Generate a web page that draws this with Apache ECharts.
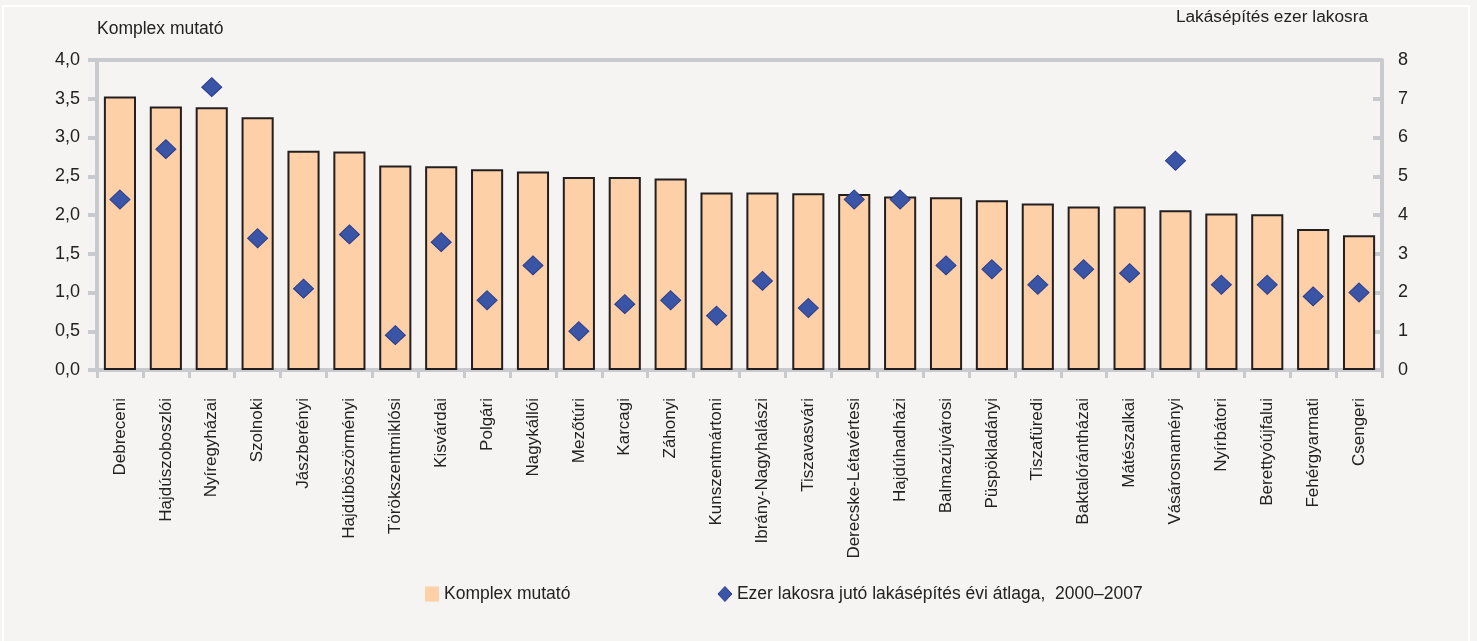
<!DOCTYPE html>
<html>
<head>
<meta charset="utf-8">
<script src="https://cdn.jsdelivr.net/npm/echarts@6/dist/echarts.min.js"></script>
<style>
html,body{margin:0;padding:0;background:#f5f4f2;}
#c{width:1477px;height:641px;}
</style>
</head>
<body>
<div id="c"></div>
<script>
const categories = ["Debreceni","Hajdúszoboszlói","Nyíregyházai","Szolnoki","Jászberényi","Hajdúböszörményi","Törökszentmiklósi","Kisvárdai","Polgári","Nagykállói","Mezőtúri","Karcagi","Záhonyi","Kunszentmártoni","Ibrány-Nagyhalászi","Tiszavasvári","Derecske-Létavértesi","Hajdúhadházi","Balmazújvárosi","Püspökladányi","Tiszafüredi","Baktalórántházai","Mátészalkai","Vásárosnaményi","Nyírbátori","Berettyóújfalui","Fehérgyarmati","Csengeri"];
const komplex = [3.53,3.40,3.39,3.26,2.83,2.82,2.64,2.63,2.59,2.56,2.49,2.49,2.47,2.29,2.29,2.28,2.27,2.24,2.23,2.19,2.15,2.11,2.11,2.06,2.02,2.01,1.82,1.74];
const lakas = [4.4,5.7,7.3,3.4,2.1,3.5,0.9,3.3,1.8,2.7,1.0,1.7,1.8,1.4,2.3,1.6,4.4,4.4,2.7,2.6,2.2,2.6,2.5,5.4,2.2,2.2,1.9,2.0];
const leftTicks = ["0,0","0,5","1,0","1,5","2,0","2,5","3,0","3,5","4,0"];

const chart = echarts.init(document.getElementById('c'));
const axisGrey = '#c9cacd';
const txt = '#222222';
const font = 'Liberation Sans, Arial, sans-serif';
chart.setOption({
  backgroundColor: '#f5f4f2',
  textStyle: {fontFamily: font},
  graphic: [{
    type: 'rect', shape: {x: 3, y: 6, width: 1466, height: 650},
    style: {fill: 'none', stroke: '#ffffff', lineWidth: 2}, silent: true
  }, {
    type: 'line', shape: {x1: 97, y1: 60, x2: 1382, y2: 60},
    style: {stroke: axisGrey, lineWidth: 4}, silent: true, z: 0
  }],
  grid: {left: 97, right: 95, top: 60, bottom: 271, containLabel: false},
  legend: {
    top: 580, left: 420, itemGap: 147,
    textStyle: {fontSize: 17.5, color: txt, fontFamily: font},
    itemWidth: 14, itemHeight: 15,
    data: [
      {name: 'Komplex mutató', icon: 'rect', itemStyle: {color: '#fdd0a7', borderWidth: 0}},
      {name: 'Ezer lakosra jutó lakásépítés évi átlaga,  2000–2007', icon: 'diamond', itemStyle: {color: '#3a55a6', borderColor: '#2a3a8a', borderWidth: 1}}
    ]
  },
  xAxis: {
    type: 'category', data: categories,
    axisLine: {lineStyle: {color: axisGrey, width: 4}},
    axisTick: {show: true, alignWithLabel: false, length: 8, lineStyle: {color: axisGrey, width: 3}},
    axisLabel: {rotate: 90, fontSize: 17, color: txt, margin: 28, fontFamily: font, interval: 0}
  },
  yAxis: [{
    type: 'value', min: 0, max: 4, interval: 0.5,
    name: 'Komplex mutató', nameLocation: 'end', nameGap: 22,
    nameTextStyle: {fontSize: 17.5, color: txt, align: 'left', padding: [0,0,0,0], fontFamily: font},
    axisLine: {show: true, lineStyle: {color: axisGrey, width: 4}},
    axisTick: {show: true, length: 9, lineStyle: {color: axisGrey, width: 4}},
    splitLine: {show: false},
    axisLabel: {fontSize: 18, color: txt, margin: 17, fontFamily: font,
      formatter: v => leftTicks[Math.round(v*2)]}
  }, {
    type: 'value', min: 0, max: 8, interval: 1,
    name: 'Lakásépítés ezer lakosra', nameLocation: 'end', nameGap: 34,
    nameTextStyle: {fontSize: 17.3, color: txt, align: 'right', padding: [0,14,0,0], fontFamily: font},
    position: 'right',
    axisLine: {show: true, lineStyle: {color: axisGrey, width: 4}},
    axisTick: {show: true, inside: true, length: 9, lineStyle: {color: axisGrey, width: 4}},
    splitLine: {show: false},
    axisLabel: {fontSize: 18, color: txt, margin: 16, fontFamily: font}
  }],
  series: [{
    name: 'Komplex mutató', type: 'bar', data: komplex, yAxisIndex: 0,
    barWidth: '70%',
    itemStyle: {color: '#fdd0a7', borderColor: '#231f20', borderWidth: 2},
    z: 2
  }, {
    name: 'Ezer lakosra jutó lakásépítés évi átlaga,  2000–2007', type: 'scatter', data: lakas, yAxisIndex: 1,
    symbol: 'diamond', symbolSize: [20, 19],
    itemStyle: {color: '#3a55a6', borderColor: '#2a3a8a', borderWidth: 1, opacity: 1},
    z: 5
  }]
});
</script>
</body>
</html>
